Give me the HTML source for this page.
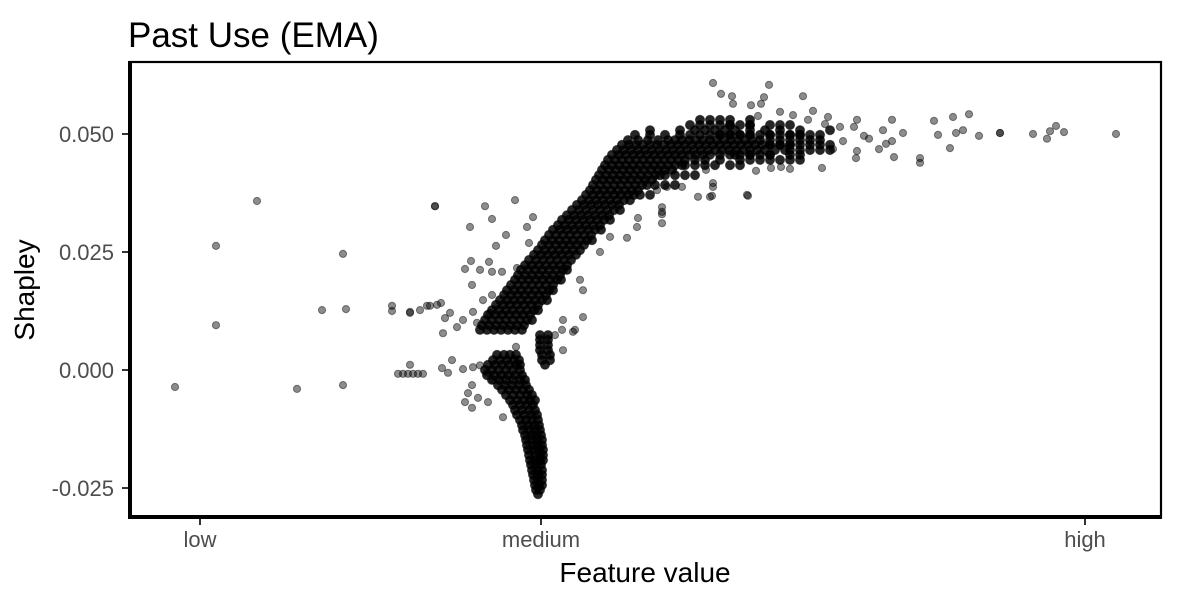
<!DOCTYPE html>
<html><head><meta charset="utf-8"><style>
html,body{margin:0;padding:0;background:#fff;}
svg{display:block;font-family:"Liberation Sans",Arial,sans-serif;}
</style></head><body>
<svg id="chart" width="1178" height="602" viewBox="0 0 1178 602" xmlns="http://www.w3.org/2000/svg">
<text x="128" y="47" font-size="35" fill="#000">Past Use (EMA)</text>
<g id="points"></g>
<g id="frame"></g>
<g id="axes"></g>
<text transform="translate(34,290) rotate(-90)" text-anchor="middle" font-size="28" fill="#000">Shapley</text>
<text x="645" y="582" text-anchor="middle" font-size="28" fill="#000">Feature value</text>
</svg>
<script>
const xTickValues = [70, 411, 955];
const xTickLabels = ["low", "medium", "high"];
const yTickValues = [0.05, 0.025, 0, -0.025];
const yTickLabels = ["0.050", "0.025", "0.000", "-0.025"];

// dense rows: each y with list of feature values (heavily overplotted region)
const denseY = [0.0032,0.0021,0.0011,0,-0.0011,-0.0021,-0.0032,-0.0042,-0.0053,-0.0064,-0.0074,-0.0085,-0.0095,-0.0106,-0.0117,-0.0127,-0.0138,-0.0148,-0.0159,-0.0169,-0.0180,-0.0191,-0.0201,-0.0212,-0.0222,-0.0233,-0.0244,-0.0254,-0.0263,
0.0085,0.0095,0.0106,0.0117,0.0127,0.0138,0.0148,0.0159,0.0169,0.0180,0.0191,0.0201,0.0212,0.0222,0.0233,0.0244,0.0254,0.0265,0.0275,0.0286,0.0297,0.0307,0.0318,0.0328,0.0339,0.0350,0.0360,0.0371,0.0381,0.0392,0.0403,0.0413,0.0424,0.0434,0.0445,0.0456,0.0466,0.0477,0.0487,0.0498,0.0508,0.0519,0.0530,
0.0477,0.0466,0.0456,0.0445,0.0498,0.0519,0.0434,0.0413,0.0392,0.0371,
0.0074,0.0064,0.0053,0.0042,0.0032,0.0021,0.0011];
const denseX = [
[367,374,380,386],[363,370,377,384,389],[358,365,372,379,386,390],[355,362,369,376,383,390],[357,364,371,378,385,392],[362,369,376,383,390,395],[368,375,382,389,396],[372,379,386,393,399],[376,383,390,397,402],[380,387,394,400,405],[383,390,397,403],[385,392,399,405],[387,394,401,407],[390,396,402,408],[392,398,404,409],[393,399,405,410],[395,401,406,411],[396,402,407,412],[397,403,408,412],[398,404,409,413],[399,405,410,413],[400,405,410,413],[401,406,411],[402,407,412],[403,408,412],[404,408,412],[405,409,412],[406,410],[408],
[350,357,364,371,378,385,392],[352,359,366,373,380,387,394],[355,362,369,376,383,390,397,402],[358,365,372,379,386,393,400],[362,369,376,383,390,397,404,408],[366,373,380,387,394,401,408],[370,377,384,391,398,405,412,417],[374,381,388,395,402,409,416],[377,384,391,398,405,412,419,423],[381,388,395,402,409,416,423],[385,392,399,406,413,420,427,431],[388,395,402,409,416,423,430],[391,398,405,412,419,426,433,437],[395,402,409,416,423,430,437],[399,406,413,420,427,434,441],[404,411,418,425,432,439,446],[408,415,422,429,436,443,450],[412,419,426,433,440,447,454],[415,422,429,436,443,450,457,462],[419,426,433,440,447,454,461],[423,430,437,444,451,458,465,471],[428,435,442,449,456,463,470],[432,439,446,453,460,467,474,480],[437,444,451,458,465,472,479],[442,449,456,463,470,477,484,490],[447,454,461,468,475,482,489],[452,459,466,473,480,487,494,500],[456,463,470,477,484,491,498,504],[460,467,474,481,488,495,502,508],[463,470,477,484,491,498,505,512,517],[466,473,480,487,494,501,508,515,522],[469,476,483,490,497,504,511,518,525,530],[472,479,486,493,500,507,514,521,528,535,542],[475,482,489,496,503,510,517,524,531,538,545,552],[478,485,492,499,506,513,520,527,534,541,548,555,565,575,590,610],[482,489,496,503,510,517,524,531,538,545,552,559,566,573,580,590,605,620,640],[487,494,501,508,515,522,529,536,543,550,557,564,571,578,585,592,599,606,613,620,627,635,645,655],[492,499,506,513,520,527,534,541,548,555,562,569,576,583,590,597,604,611,618,625,632,640,650,660],[498,508,518,528,538,545,552,559,566,573,580,587,594,601,608,615,622,630,640,650,660,670,680,690],[505,520,535,550,560,570,580,590,600,610,620,630,640,650,660,670,680],[520,550,565,575,585,595,605,620,635,650,670,700],[560,570,580,590,600,610,620,640],[570,580,590,600,620],
[640,650,660,670,680,690,700],[660,670,680,690,700],[600,610,620,630,640,660,670],[620,630,640,650,660,670],[590,600,610,620,640,660,670,690],[600,620,650,660],[555,565,575,585,600,610],[535,545,555,565],[525,535,545],[510,520],
[410,418],[410,418],[410,418],[410,418],[412,420],[412,420],[415]];

const sparseX = [45,86,86,127,167,192,213,216,213,268,273,278,283,288,293,280,262,262,280,297,307,315,305,
305,355,385,340,362,376,366,397,403,399,341,335,359,350,362,372,387,342,362,353,300,311,280,290,320,333,343,347,360,313,327,433,453,443,433,497,508,507,453,450,470,480,532,532,532,532,552,568,580,583,617,537,527,
312,322,318,333,343,350,342,338,335,342,348,358,373,363,357,
425,432,445,386,
727,724,734,739,727,726,749,756,762,753,762,773,764,790,790,804,808,823,820,826,833,839,849,870,870,903,917,920,926,934,986,
583,639,673,634,631,621,602,591,603,683,698,650,663,628,678,695,710,713,703,692,660,651,641,626,618,582,583,576];
const sparseY = [-0.0036,0.0263,0.0095,0.0358,-0.0040,0.0127,0.0246,0.0129,-0.0032,-0.0008,-0.0008,-0.0008,-0.0008,-0.0008,-0.0008,0.0011,0.0136,0.0125,0.0123,0.0136,0.0138,0.0110,0.0347,
0.0347,0.0347,0.0360,0.0303,0.0320,0.0286,0.0263,0.0303,0.0324,0.0269,0.0231,0.0214,0.0229,0.0212,0.0208,0.0208,0.0216,0.0180,0.0159,0.0148,0.0136,0.0142,0.0121,0.0127,0.0121,0.0106,0.0123,0.0100,0.0121,0.0078,0.0091,0.0106,0.0112,0.0081,0.0042,0.0280,0.0322,0.0303,0.0169,0.0191,0.0250,0.0282,0.0345,0.0311,0.0330,0.0335,0.0388,0.0367,0.0367,0.0388,0.0371,0.0388,0.0381,
0.0004,0.0021,-0.0006,0.0002,0.0006,0.0010,-0.0032,-0.0049,-0.0068,-0.0080,-0.0059,-0.0068,-0.0100,-0.0021,-0.0006,
0.0074,0.0085,0.0085,0.0049,
0.0530,0.0515,0.0496,0.0490,0.0464,0.0449,0.0468,0.0479,0.0485,0.0508,0.0530,0.0502,0.0451,0.0449,0.0439,0.0528,0.0498,0.0536,0.0470,0.0502,0.0508,0.0542,0.0496,0.0502,0.0502,0.0500,0.0490,0.0506,0.0517,0.0504,0.0500,
0.0608,0.0604,0.0580,0.0578,0.0564,0.0561,0.0580,0.0585,0.0564,0.0549,0.0536,0.0547,0.0540,0.0538,0.0530,0.0521,0.0515,0.0485,0.0468,0.0428,0.0426,0.0430,0.0428,0.0422,0.0369,0.0369,0.0396,0.0424];

const NS = "http://www.w3.org/2000/svg";
const L = 130, R = 1161, T = 62, B = 517;
const xMin = 0, xMax = 1031, yMin = -0.03114, yMax = 0.06525;
function xs(v){ return L + (v - xMin) / (xMax - xMin) * (R - L); }
function ys(v){ return B - (v - yMin) / (yMax - yMin) * (B - T); }

const pts = document.getElementById('points');
function dot(x, y, dense){
  const c = document.createElementNS(NS, 'circle');
  c.setAttribute('cx', xs(x).toFixed(1));
  c.setAttribute('cy', ys(y).toFixed(1));
  c.setAttribute('r', dense ? 4.6 : 3.6);
  c.setAttribute('fill', dense ? 'rgba(0,0,0,0.85)' : 'rgba(0,0,0,0.45)');
  c.setAttribute('stroke', 'rgba(0,0,0,0.45)');
  c.setAttribute('stroke-width', '1');
  
  
  pts.appendChild(c);
}
sparseX.forEach((x, i) => dot(x, sparseY[i], false));
denseY.forEach((y, i) => denseX[i].forEach(x => dot(x, y, true)));

const frame = document.getElementById('frame');
const rect = document.createElementNS(NS, 'rect');
rect.setAttribute('x', L); rect.setAttribute('y', T);
rect.setAttribute('width', R - L); rect.setAttribute('height', B - T);
rect.setAttribute('fill', 'none'); rect.setAttribute('stroke', '#000'); rect.setAttribute('stroke-width', '2.2');


frame.appendChild(rect);
const yLine = document.createElementNS(NS, 'line');
yLine.setAttribute('x1', L); yLine.setAttribute('x2', L); yLine.setAttribute('y1', T - 1); yLine.setAttribute('y2', B + 2);
yLine.setAttribute('stroke', '#000'); yLine.setAttribute('stroke-width', '4');


frame.appendChild(yLine);
const xLine = document.createElementNS(NS, 'line');
xLine.setAttribute('x1', L - 2); xLine.setAttribute('x2', R + 1); xLine.setAttribute('y1', B); xLine.setAttribute('y2', B);
xLine.setAttribute('stroke', '#000'); xLine.setAttribute('stroke-width', '4');


frame.appendChild(xLine);

const axes = document.getElementById('axes');
xTickValues.forEach((v, i) => {
  const t = document.createElementNS(NS, 'line');
  t.setAttribute('x1', xs(v)); t.setAttribute('x2', xs(v)); t.setAttribute('y1', B + 2); t.setAttribute('y2', B + 8);
  t.setAttribute('stroke', '#333'); t.setAttribute('stroke-width', '2');
  
  
  axes.appendChild(t);
  const tx = document.createElementNS(NS, 'text');
  tx.setAttribute('x', xs(v)); tx.setAttribute('y', 547);
  tx.setAttribute('text-anchor', 'middle'); tx.setAttribute('font-size', '22'); tx.setAttribute('fill', '#4d4d4d');
  tx.textContent = xTickLabels[i];
  
  
  axes.appendChild(tx);
});
yTickValues.forEach((v, i) => {
  const t = document.createElementNS(NS, 'line');
  t.setAttribute('x1', L - 8); t.setAttribute('x2', L - 2); t.setAttribute('y1', ys(v)); t.setAttribute('y2', ys(v));
  t.setAttribute('stroke', '#333'); t.setAttribute('stroke-width', '2');
  
  
  axes.appendChild(t);
  const tx = document.createElementNS(NS, 'text');
  tx.setAttribute('x', 114); tx.setAttribute('y', ys(v) + 8);
  tx.setAttribute('text-anchor', 'end'); tx.setAttribute('font-size', '22'); tx.setAttribute('fill', '#4d4d4d');
  tx.textContent = yTickLabels[i];
  
  
  axes.appendChild(tx);
});
</script>
</body></html>
